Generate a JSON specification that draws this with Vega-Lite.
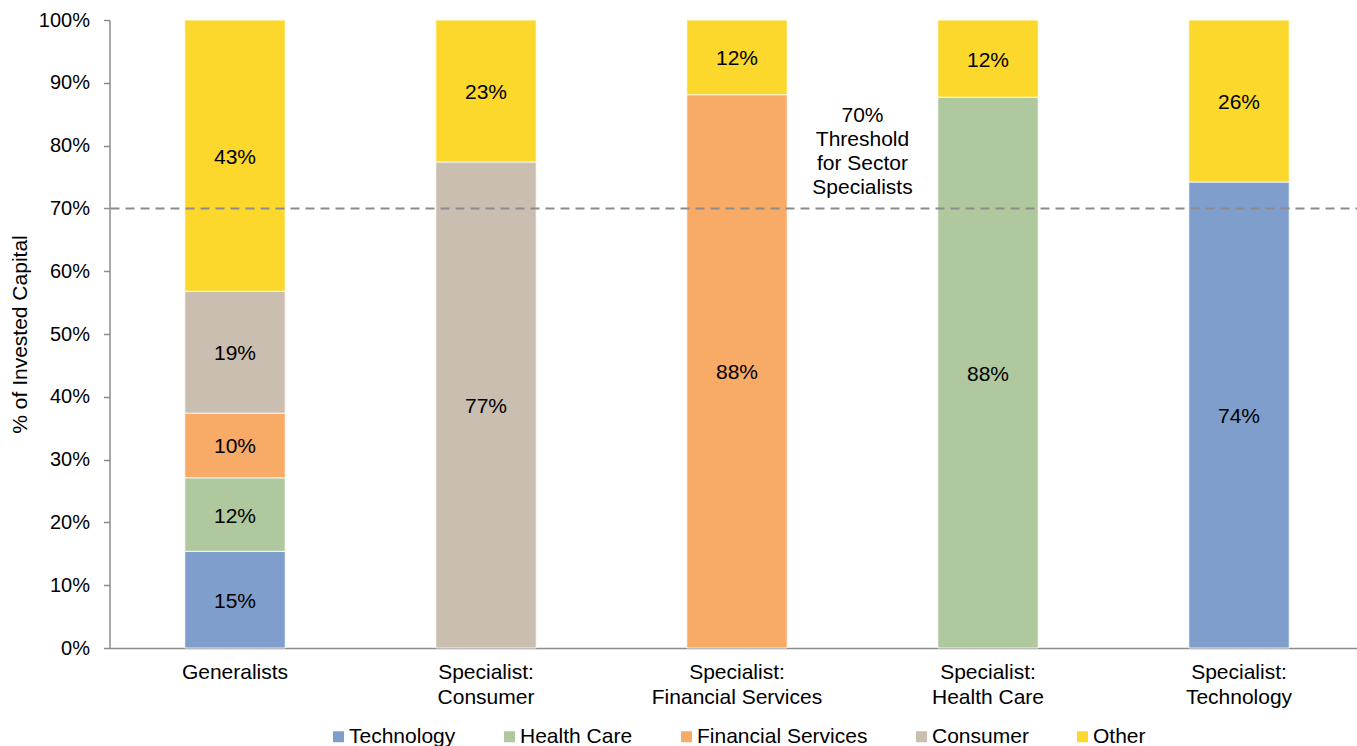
{
  "$schema": "https://vega.github.io/schema/vega-lite/v6.json",
  "width": 1255,
  "height": 628,
  "autosize": {"type": "none"},
  "padding": {"left": 109.5, "top": 20, "right": 0, "bottom": 98},
  "background": "white",
  "config": {
    "view": {"stroke": null},
    "font": "Liberation Sans",
    "text": {"font": "Liberation Sans"}
  },
  "datasets": {
    "shares": [
      {"group": "Generalists", "sector": "Technology", "rank": 1, "value": 0.154},
      {"group": "Generalists", "sector": "Health Care", "rank": 2, "value": 0.117},
      {"group": "Generalists", "sector": "Financial Services", "rank": 3, "value": 0.103},
      {"group": "Generalists", "sector": "Consumer", "rank": 4, "value": 0.194},
      {"group": "Generalists", "sector": "Other", "rank": 5, "value": 0.432},
      {"group": "Specialist: Consumer", "sector": "Consumer", "rank": 4, "value": 0.774},
      {"group": "Specialist: Consumer", "sector": "Other", "rank": 5, "value": 0.226},
      {"group": "Specialist: Financial Services", "sector": "Financial Services", "rank": 3, "value": 0.881},
      {"group": "Specialist: Financial Services", "sector": "Other", "rank": 5, "value": 0.119},
      {"group": "Specialist: Health Care", "sector": "Health Care", "rank": 2, "value": 0.877},
      {"group": "Specialist: Health Care", "sector": "Other", "rank": 5, "value": 0.123},
      {"group": "Specialist: Technology", "sector": "Technology", "rank": 1, "value": 0.742},
      {"group": "Specialist: Technology", "sector": "Other", "rank": 5, "value": 0.258}
    ],
    "threshold": [{"level": 0.7}],
    "note": [{"label": "70%\nThreshold\nfor Sector\nSpecialists", "anchor": "Specialist: Financial Services", "ypos": 0.8475}]
  },
  "layer": [
    {
      "data": {"name": "shares"},
      "transform": [
        {"stack": "value", "groupby": ["group"], "sort": [{"field": "rank", "order": "ascending"}], "as": ["v0", "v1"]},
        {"calculate": "(datum.v0 + datum.v1) / 2", "as": "mid"}
      ],
      "mark": {"type": "bar", "stroke": "white", "strokeWidth": 0.8},
      "encoding": {
        "x": {
          "field": "group",
          "type": "nominal",
          "sort": ["Generalists", "Specialist: Consumer", "Specialist: Financial Services", "Specialist: Health Care", "Specialist: Technology"],
          "scale": {"paddingInner": 0.6, "paddingOuter": 0.3},
          "axis": {
            "title": null,
            "labelAngle": 0,
            "ticks": false,
            "tickSize": 0,
            "domainColor": "#8c8c8c",
            "domainWidth": 1.5,
            "labelFont": "Liberation Sans",
            "labelFontSize": 21,
            "labelColor": "#000000",
            "labelLineHeight": 25,
            "labelPadding": 13,
            "labelExpr": "indexof(datum.label, ':') > 0 ? [substring(datum.label, 0, indexof(datum.label, ':') + 1), substring(datum.label, indexof(datum.label, ':') + 2)] : datum.label"
          }
        },
        "y": {
          "field": "v0",
          "type": "quantitative",
          "scale": {"domain": [0, 1]},
          "axis": {
            "title": "% of Invested Capital",
            "titleFont": "Liberation Sans",
            "titleFontSize": 21,
            "titleFontWeight": "normal",
            "titleColor": "#000000",
            "titlePadding": 8,
            "format": ".0%",
            "values": [0, 0.1, 0.2, 0.3, 0.4, 0.5, 0.6, 0.7, 0.8, 0.9, 1],
            "grid": false,
            "labelFont": "Liberation Sans",
            "labelFontSize": 20,
            "labelColor": "#000000",
            "labelPadding": 14,
            "tickSize": 6,
            "tickColor": "#8c8c8c",
            "tickWidth": 1.5,
            "domainColor": "#8c8c8c",
            "domainWidth": 1.5
          }
        },
        "y2": {"field": "v1"},
        "color": {
          "field": "sector",
          "type": "nominal",
          "scale": {
            "domain": ["Technology", "Health Care", "Financial Services", "Consumer", "Other"],
            "range": ["#7f9ecb", "#b0c89e", "#f8aa67", "#cabeb1", "#fcd82c"]
          },
          "legend": {
            "title": null,
            "orient": "none",
            "legendX": 218.5,
            "legendY": 706,
            "direction": "horizontal",
            "columns": 5,
            "symbolType": "square",
            "symbolSize": 121,
            "symbolStrokeWidth": 0,
            "labelFont": "Liberation Sans",
            "labelFontSize": 21,
            "labelColor": "#000000",
            "labelOffset": 0,
            "columnPadding": 43,
            "labelLimit": 400
          }
        }
      }
    },
    {
      "data": {"name": "shares"},
      "transform": [
        {"stack": "value", "groupby": ["group"], "sort": [{"field": "rank", "order": "ascending"}], "as": ["v0", "v1"]},
        {"calculate": "(datum.v0 + datum.v1) / 2", "as": "mid"}
      ],
      "mark": {"type": "text", "fontSize": 21, "color": "#000000", "align": "center", "baseline": "middle", "dy": 2},
      "encoding": {
        "x": {"field": "group", "type": "nominal", "sort": ["Generalists", "Specialist: Consumer", "Specialist: Financial Services", "Specialist: Health Care", "Specialist: Technology"]},
        "y": {"field": "mid", "type": "quantitative", "scale": {"domain": [0, 1]}},
        "text": {"field": "value", "type": "quantitative", "format": ".0%"}
      }
    },
    {
      "data": {"name": "threshold"},
      "mark": {"type": "rule", "color": "#8c8c8c", "strokeWidth": 2, "strokeDash": [9, 6]},
      "encoding": {
        "y": {"field": "level", "type": "quantitative", "scale": {"domain": [0, 1]}}
      }
    },
    {
      "data": {"name": "note"},
      "mark": {"type": "text", "fontSize": 21, "color": "#000000", "align": "center", "baseline": "middle", "lineBreak": "\n", "lineHeight": 24},
      "encoding": {
        "x": {"field": "anchor", "type": "nominal", "bandPosition": 1.75},
        "y": {"field": "ypos", "type": "quantitative", "scale": {"domain": [0, 1]}},
        "text": {"field": "label", "type": "nominal"}
      }
    }
  ]
}
